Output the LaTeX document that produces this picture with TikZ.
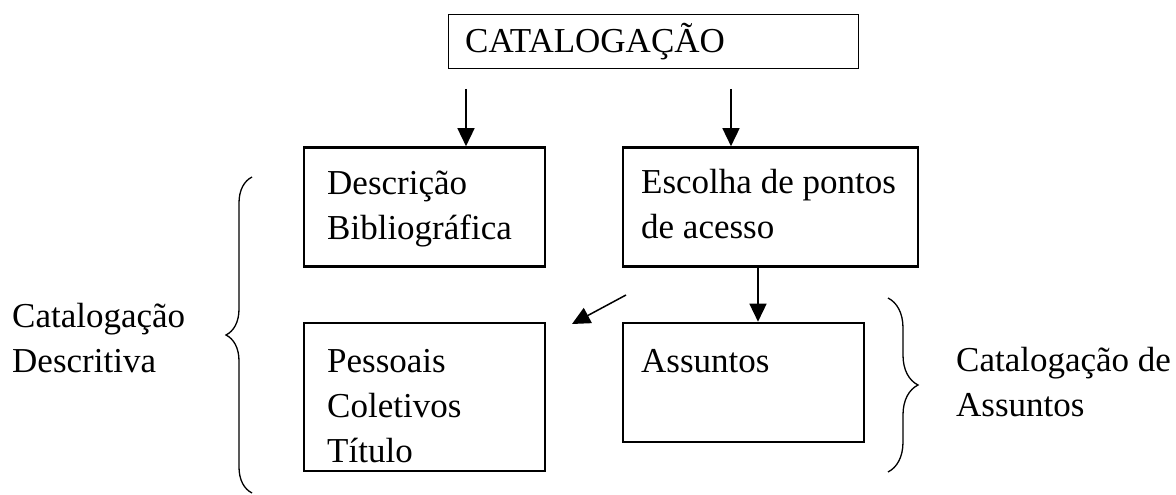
\documentclass[tikz,border=0pt]{standalone}
\usepackage{fontspec}
\setmainfont{Liberation Serif}
\usetikzlibrary{arrows.meta,decorations.pathreplacing}
\newcommand{\mylines}[1]{\begin{tabular}[t]{@{}l@{}}#1\end{tabular}}
\begin{document}
\begin{tikzpicture}[x=1pt,y=-1pt,
  boxnode/.style={draw,line width=2.6pt,rectangle,inner sep=0pt,minimum width=241pt},
  topbox/.style={draw,line width=1pt,rectangle,inner sep=0pt},
  txt/.style={anchor=base west,inner sep=0pt,font=\fontsize{35}{45}\selectfont},
  arr/.style={line width=1.5pt,-{Triangle[length=18pt,width=17pt]}},
  bracestyle/.style={line width=1.3pt,decorate,decoration={brace,amplitude=#1}}
]
\useasboundingbox (0,0) rectangle (1176,495);
% boxes
\node[topbox,minimum width=410pt,minimum height=54pt] (top) at (653,42) {};
\node[boxnode,minimum height=119pt] (b1) at (424.5,207) {};
\node[boxnode,minimum width=295pt,minimum height=119pt] (b2) at (770.5,207) {};
\node[boxnode,minimum height=148pt] (b3) at (424.5,397) {};
\node[boxnode,minimum height=119pt] (b4) at (743.5,382.5) {};
% texts
\node[txt] (t0) at (465,53) {CATALOGAÇÃO};
\node[txt] (t1) at (327,194) {\mylines{Descrição\\Bibliográfica}};
\node[txt] (t2) at (641,193) {\mylines{Escolha de pontos\\de acesso}};
\node[txt] (t3) at (327,372) {\mylines{Pessoais\\Coletivos\\Título}};
\node[txt] (t4) at (641,372) {Assuntos};
\node[txt] (lab1) at (12,327) {\mylines{Catalogação\\Descritiva}};
\node[txt] (lab2) at (956,371) {\mylines{Catalogação de\\Assuntos}};
% arrows
\coordinate (s1) at (466,89);
\coordinate (s2) at (731,89);
\coordinate (s3) at (758,0);
\coordinate (s4) at (626,295);
\coordinate (e4) at (572,324);
\draw[arr] (s1) -- (s1 |- b1.north);
\draw[arr] (s2) -- (s2 |- b2.north);
\draw[arr] (b2.south -| s3) -- (b4.north -| s3);
\draw[arr] (s4) -- (e4);
% braces
\coordinate (lb1) at (252,493);
\coordinate (lb2) at (252,177);
\coordinate (rb1) at (888,298);
\coordinate (rb2) at (888,472);
\draw[bracestyle=26pt] (lb1) -- (lb2);
\draw[bracestyle=30pt] (rb1) -- (rb2);
\end{tikzpicture}
\end{document}
